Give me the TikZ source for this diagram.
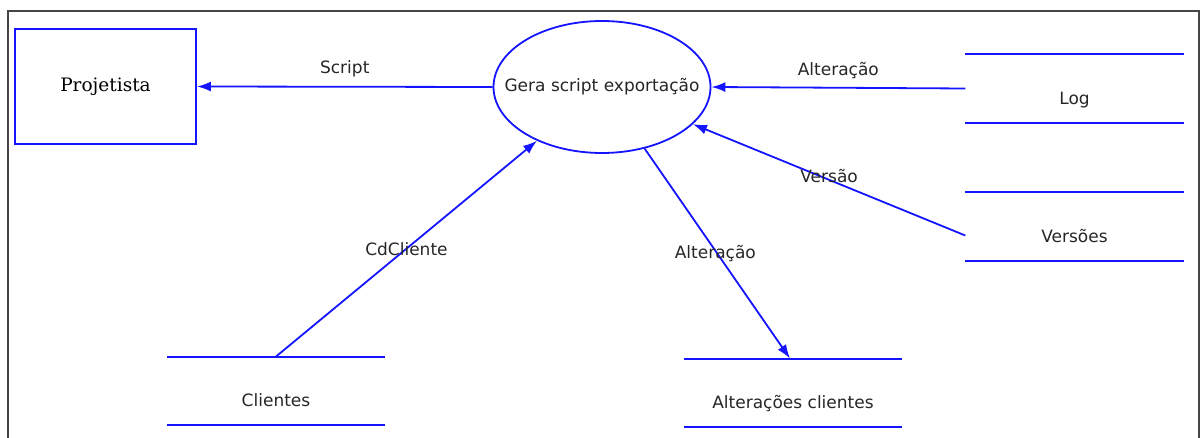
\documentclass[tikz,border=0pt]{standalone}
\usepackage{fontspec}
\usetikzlibrary{shapes.geometric,arrows.meta,calc}
\newfontfamily\lblfont{DejaVu Sans}
\newfontfamily\entfont{DejaVu Serif}
\definecolor{dfdblue}{RGB}{20,20,255}
\definecolor{framegray}{RGB}{70,70,70}
\tikzset{
  flow/.style={draw=dfdblue, line width=1.8pt, -{Latex[length=14pt,width=10pt]}},
  flowlbl/.style={font=\lblfont\fontsize{17}{19}\selectfont, text=black!85, inner sep=1pt},
  entity/.style={draw=dfdblue, line width=1.8pt, minimum width=181pt, minimum height=115pt, inner sep=0pt,
    font=\entfont\fontsize{18.5}{20}\selectfont},
  process/.style={ellipse, draw=dfdblue, line width=1.8pt, minimum width=217pt, minimum height=132pt,
    inner xsep=-30pt, inner ysep=0pt,
    font=\lblfont\fontsize{17}{19}\selectfont, text=black!85},
  store/.style={minimum width=218pt, text height=50pt, text depth=18.5pt, inner ysep=0pt, inner xsep=0pt,
    font=\lblfont\fontsize{17}{19}\selectfont, text=black!85},
  storeline/.style={draw=dfdblue, line width=2pt}
}
\begin{document}
\begin{tikzpicture}[x=1pt,y=-1pt]
\useasboundingbox (0,0) rectangle (1201,438);
% frame
\draw[framegray, line width=2pt] (8,438) -- (8,11) -- (1199,11) -- (1199,438);

\node[entity] (proj) at (105.5,86.5) {Projetista};
\node[process] (proc) at (602,87) {Gera script exportação};

\node[store] (log) at (1074.5,88.5) {Log};
\node[store] (vers) at (1074.5,226.5) {Versões};
\node[store] (cli) at (276,391) {Clientes};
\node[store] (altc) at (793,393) {Alterações clientes};

\foreach \s in {log,vers,cli,altc}{
  \draw[storeline] (\s.north west) -- (\s.north east);
  \draw[storeline] (\s.south west) -- (\s.south east);
}

\draw[flow] (proc.west) -- (proj.east) node[flowlbl, midway, above=8pt] {Script};
\draw[flow] (log.west) -- (proc.east) node[flowlbl, midway, above=7pt] {Alteração};
\draw[flow] ($(vers.west)+(0,9)$) -- (proc) node[flowlbl, midway, yshift=4pt] {Versão};
\draw[flow] (cli.north) -- (proc) node[flowlbl, midway] {CdCliente};
\draw[flow] (proc) -- ($(altc.north)+(-3,0)$) node[flowlbl, midway, xshift=-2pt] {Alteração};
\end{tikzpicture}
\end{document}
